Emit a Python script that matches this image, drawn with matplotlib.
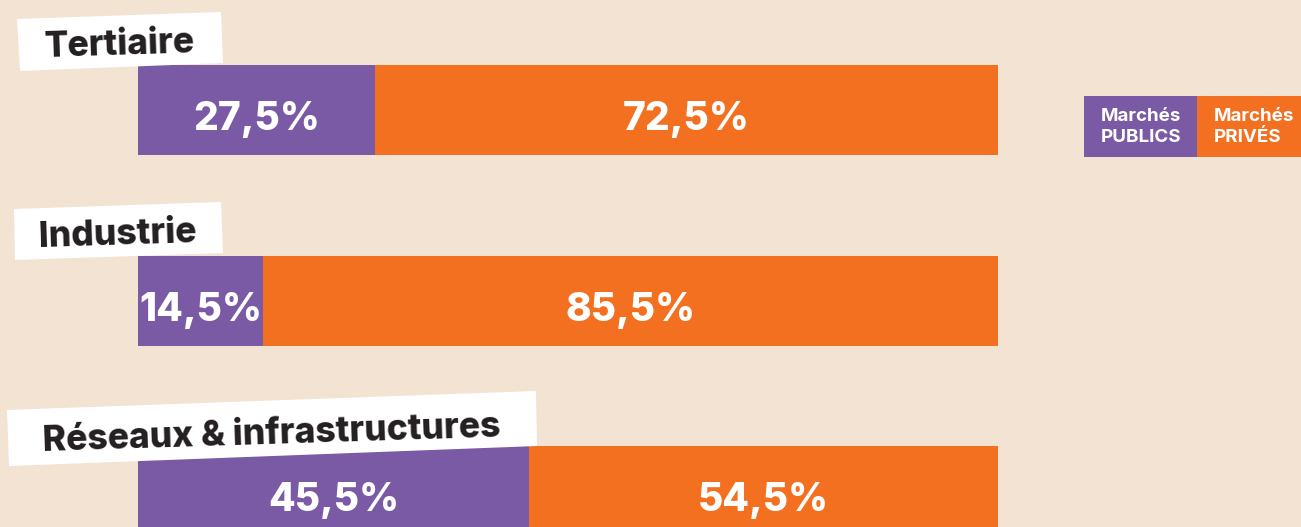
import matplotlib.pyplot as plt
from matplotlib.patches import Polygon

# data
sectors = ["Tertiaire", "Industrie", "Réseaux & infrastructures"]
public_pct = [27.5, 14.5, 45.5]
private_pct = [72.5, 85.5, 54.5]
series = ["Marchés\nPUBLICS", "Marchés\nPRIVÉS"]

BG = "#F2E3D3"
PURPLE = "#7A5AA4"
ORANGE = "#F37021"
INK = "#231F20"
FONT = "Inter"

W, H = 1301, 527
fig = plt.figure(figsize=(W / 100, H / 100), dpi=100, facecolor=BG)

# bars: 0% at px 138, 100% at px 998; rows 190.5 px apart, first centred at px 110
px_per_pct = 8.6
row_px = 190.5
ax = fig.add_axes([0, 0, 1, 1])
ax.set_facecolor(BG)
ax.set_xlim(-138 / px_per_pct, (W - 138) / px_per_pct)
ax.set_ylim((H - 110) / row_px, -110 / row_px)
ax.axis("off")

rows = range(len(sectors))
bar_h = 90 / row_px
ax.barh(rows, public_pct, height=bar_h, color=PURPLE, zorder=2)
ax.barh(rows, private_pct, left=public_pct, height=bar_h, color=ORANGE, zorder=2)


def pct(v):
    return f"{v:.1f}".replace(".", ",") + "%"


for i, (p, q) in enumerate(zip(public_pct, private_pct)):
    ax.text(p / 2, i + 0.105, pct(p), ha="center", va="baseline", color="white",
            fontsize=28, fontweight="heavy", family=FONT, zorder=3)
    ax.text(p + q / 2, i + 0.105, pct(q), ha="center", va="baseline", color="white",
            fontsize=28, fontweight="heavy", family=FONT, zorder=3)

# overlay in pixel coordinates for the tilted label tags and the legend
ov = fig.add_axes([0, 0, 1, 1])
ov.set_xlim(0, W)
ov.set_ylim(H, 0)
ov.axis("off")
ov.patch.set_alpha(0)

tag_boxes = [
    [(17, 19), (221, 12), (223, 63), (20, 71)],
    [(14, 209), (221, 202), (223, 253), (15, 260)],
    [(7, 410), (536, 391), (537, 446), (9, 466)],
]
tag_text_xy = [(120, 55), (118, 245), (272, 444)]
for name, box, (tx, ty) in zip(sectors, tag_boxes, tag_text_xy):
    ov.add_patch(Polygon(box, closed=True, facecolor="white", edgecolor="none", zorder=4))
    ov.text(tx, ty, name, ha="center", va="baseline", rotation=1.8, rotation_mode="anchor",
            color=INK, fontsize=25.5, fontweight="heavy", family=FONT, zorder=5)

# legend
leg_boxes = [(1084, 1197), (1197, 1301)]
for (x0, x1), label, color in zip(leg_boxes, series, [PURPLE, ORANGE]):
    ov.add_patch(Polygon([(x0, 96), (x1, 96), (x1, 157), (x0, 157)], closed=True,
                         facecolor=color, edgecolor="none", zorder=4))
    ov.text(x0 + 17, 127, label, ha="left", va="center", color="white", fontsize=13.5,
            fontweight="bold", family=FONT, linespacing=1.35, zorder=5)

fig.savefig("out.png", dpi=100, facecolor=BG)
